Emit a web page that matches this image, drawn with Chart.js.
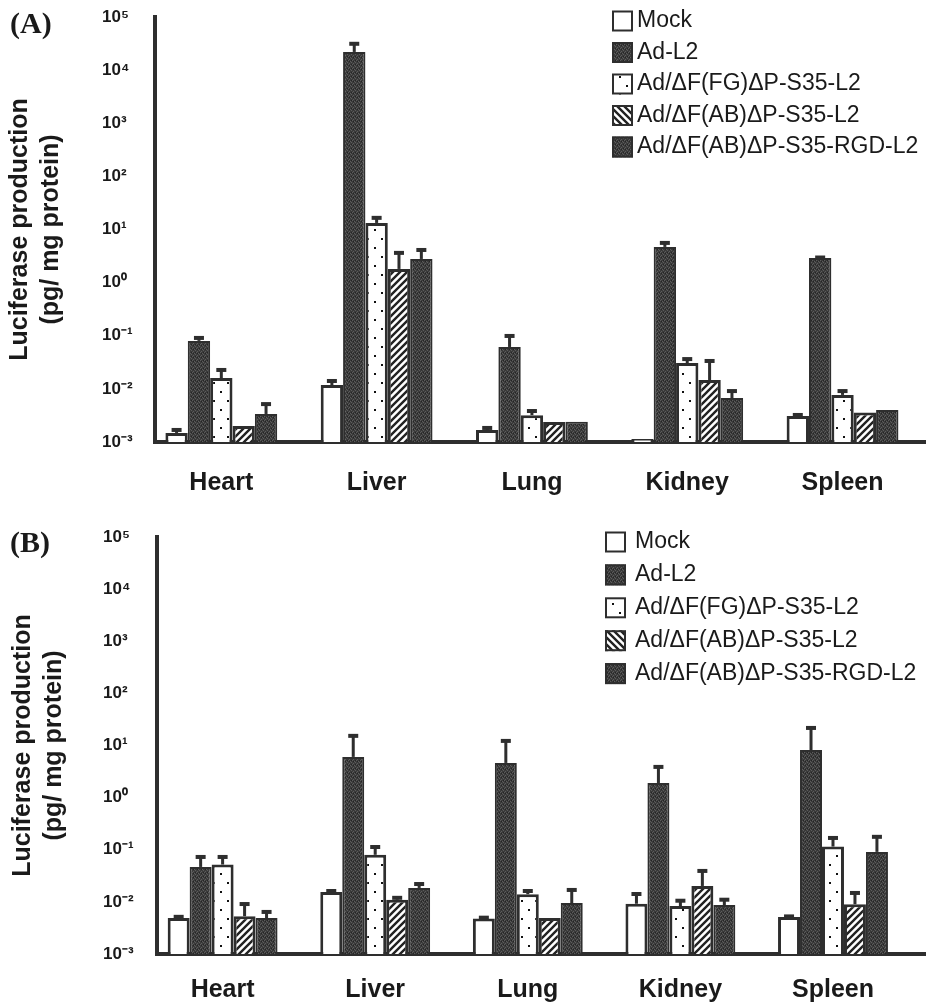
<!DOCTYPE html>
<html>
<head>
<meta charset="utf-8">
<title>Luciferase production</title>
<script src="https://cdn.jsdelivr.net/npm/chart.js@4.4.1/dist/chart.umd.min.js"></script>
<style>
  body { margin: 0; background: #fff; }
  #pagina { position: relative; width: 927px; height: 1005px; overflow: hidden; }
  .painel { position: absolute; left: 0; }
  .letra { position: absolute; left: 10px; font: bold 30px "Liberation Serif", "Times New Roman", serif; line-height: 30px; color: #1a1a1a; }
</style>
</head>
<body>
<div id="pagina">
  <canvas id="graficoA" class="painel" width="927" height="500" style="top:0"></canvas>
  <canvas id="graficoB" class="painel" width="927" height="505" style="top:500px"></canvas>
  <div class="letra" style="top:8px">(A)</div>
  <div class="letra" style="top:527px">(B)</div>
</div>
<script>
const orgaos = ['Heart', 'Liver', 'Lung', 'Kidney', 'Spleen'];
const vetores = ['Mock', 'Ad-L2', 'Ad/ΔF(FG)ΔP-S35-L2', 'Ad/ΔF(AB)ΔP-S35-L2', 'Ad/ΔF(AB)ΔP-S35-RGD-L2'];
const expoentes = [-3, -2, -1, 0, 1, 2, 3, 4, 5];
const rotulosY = ['10⁻³', '10⁻²', '10⁻¹', '10⁰', '10¹', '10²', '10³', '10⁴', '10⁵'];

// (A) medias
const mockA = [0.00148, 0.0118, 0.00168, 0.00114, 0.00309];
const adL2A = [0.080, 22000, 0.0615, 4.7, 2.92];
const fgA = [0.016, 13.3, 0.0032, 0.0307, 0.0077];
const abA = [0.0020, 1.81, 0.00238, 0.0147, 0.0036];
const rgdA = [0.00337, 2.79, 0.0024, 0.0067, 0.0040];
// (A) topo das barras de erro
const mockErrA = [0.00176, 0.0147, 0.00192, null, 0.00337];
const adL2ErrA = [0.095, 32700, 0.1035, 5.84, 3.1];
const fgErrA = [0.0237, 17.3, 0.0040, 0.038, 0.0095];
const abErrA = [null, 3.79, null, 0.035, null];
const rgdErrA = [0.0054, 4.3, null, 0.0095, null];

// (B) medias
const mockB = [0.0049, 0.0155, 0.0048, 0.0092, 0.0051];
const adL2B = [0.0468, 6.04, 4.63, 1.91, 8.2];
const fgB = [0.052, 0.08, 0.014, 0.0083, 0.115];
const abB = [0.0053, 0.011, 0.0049, 0.0202, 0.009];
const rgdB = [0.0049, 0.0185, 0.0095, 0.0087, 0.091];
// (B) topo das barras de erro
const mockErrB = [0.0054, 0.0169, 0.0052, 0.0148, 0.0055];
const adL2ErrB = [0.076, 16, 12.8, 4.06, 22.7];
const fgErrB = [0.076, 0.118, 0.0169, 0.011, 0.176];
const abErrB = [0.0095, 0.0125, null, 0.041, 0.0155];
const rgdErrB = [0.0067, 0.023, 0.0177, 0.0115, 0.185];

const TINTA = '#2e2e2e';
Chart.defaults.font.family = '"Liberation Sans", Arial, sans-serif';
Chart.defaults.color = '#1a1a1a';

// Padroes de preenchimento
function padraoEscuro(ctx) {
  const c = document.createElement('canvas');
  c.width = 4; c.height = 4;
  const g = c.getContext('2d');
  g.fillStyle = '#3a3a3a'; g.fillRect(0, 0, 4, 4);
  g.fillStyle = '#5c5c5c';
  g.fillRect(0, 0, 1, 1); g.fillRect(2, 1, 1, 1); g.fillRect(1, 3, 1, 1); g.fillRect(3, 2, 1, 1);
  g.fillStyle = '#242424';
  g.fillRect(1, 1, 1, 1); g.fillRect(3, 0, 1, 1);
  return ctx.createPattern(c, 'repeat');
}

function padraoPontos(ctx) {
  const c = document.createElement('canvas');
  c.width = 14; c.height = 18;
  const g = c.getContext('2d');
  g.fillStyle = '#fff'; g.fillRect(0, 0, 14, 18);
  g.fillStyle = '#111';
  g.fillRect(3, 4, 2, 2); g.fillRect(10, 13, 2, 2);
  return ctx.createPattern(c, 'repeat');
}

function padraoListras(ctx, invertido) {
  const c = document.createElement('canvas');
  c.width = 7; c.height = 7;
  const g = c.getContext('2d');
  g.fillStyle = '#fff'; g.fillRect(0, 0, 7, 7);
  g.strokeStyle = '#222'; g.lineWidth = 2.4;
  g.beginPath();
  if (invertido) {
    g.moveTo(0, 0); g.lineTo(7, 7);
    g.moveTo(6, -1); g.lineTo(8, 1);
    g.moveTo(-1, 6); g.lineTo(1, 8);
  } else {
    g.moveTo(0, 7); g.lineTo(7, 0);
    g.moveTo(-1, 1); g.lineTo(1, -1);
    g.moveTo(6, 8); g.lineTo(8, 6);
  }
  g.stroke();
  return ctx.createPattern(c, 'repeat');
}

function montarDatasets(ctx, series, erros) {
  const escuro = padraoEscuro(ctx);
  const pontos = padraoPontos(ctx);
  const fundos = ['#ffffff', escuro, pontos, padraoListras(ctx, false), escuro];
  const legendas = ['#ffffff', escuro, pontos, padraoListras(ctx, true), escuro];
  return vetores.map((nome, k) => ({
    label: nome,
    data: series[k].map((v, i) => ({ x: i, y: v })),
    erroTopo: erros[k],
    backgroundColor: fundos[k],
    preenchLegenda: legendas[k],
    borderColor: TINTA,
    borderWidth: (k === 1 || k === 4) ? 2 : 3
  }));
}

// Barras de erro (so para cima)
const barrasErro = {
  id: 'barrasErro',
  afterDatasetsDraw(chart) {
    const ctx = chart.ctx;
    const y = chart.scales.y;
    ctx.save();
    ctx.fillStyle = TINTA;
    chart.data.datasets.forEach((ds, k) => {
      chart.getDatasetMeta(k).data.forEach((barra, i) => {
        const topo = ds.erroTopo[i];
        if (topo == null) return;
        const yt = y.getPixelForValue(topo);
        ctx.fillRect(barra.x - 1.5, yt, 3, barra.y - yt);
        ctx.fillRect(barra.x - 5, yt - 1, 10, 4);
      });
    });
    ctx.restore();
  }
};

// Legenda em coluna, no canto de cima
const legendaLateral = {
  id: 'legendaLateral',
  afterDraw(chart, args, opts) {
    const ctx = chart.ctx;
    ctx.save();
    ctx.font = opts.fonte;
    ctx.textBaseline = 'middle';
    chart.data.datasets.forEach((ds, k) => {
      const yc = opts.y + k * opts.passo;
      const topo = yc - opts.lado / 2;
      ctx.fillStyle = ds.preenchLegenda;
      ctx.fillRect(opts.x, topo, opts.lado, opts.lado);
      ctx.strokeStyle = TINTA;
      ctx.lineWidth = 2;
      ctx.strokeRect(opts.x + 1, topo + 1, opts.lado - 2, opts.lado - 2);
      ctx.fillStyle = '#1a1a1a';
      ctx.fillText(ds.label, opts.xTexto, yc);
    });
    ctx.restore();
  }
};

function criarGrafico(id, series, erros, geo) {
  const ctx = document.getElementById(id).getContext('2d');
  return new Chart(ctx, {
    type: 'bar',
    data: { datasets: montarDatasets(ctx, series, erros) },
    plugins: [barrasErro, legendaLateral],
    options: {
      responsive: false,
      animation: false,
      events: [],
      layout: { padding: geo.margem },
      datasets: { bar: { categoryPercentage: 0.72, barPercentage: 1 } },
      plugins: {
        legend: { display: false },
        tooltip: { enabled: false },
        legendaLateral: geo.legenda
      },
      scales: {
        x: {
          type: 'linear',
          min: geo.xMin,
          max: geo.xMax,
          offset: false,
          z: 1,
          grid: { display: false, drawTicks: false, offset: false },
          border: { display: true, width: 4, color: TINTA },
          afterBuildTicks: (eixo) => { eixo.ticks = orgaos.map((o, i) => ({ value: i })); },
          afterFit: (eixo) => { eixo.height = geo.alturaX; },
          ticks: {
            autoSkip: false,
            maxRotation: 0,
            padding: geo.padX,
            font: { size: 25, weight: 'bold' },
            callback: (v) => orgaos[v]
          }
        },
        y: {
          type: 'logarithmic',
          min: 1e-3,
          max: 1e5,
          grid: { display: false, drawTicks: false },
          border: { display: true, width: 4, color: TINTA },
          afterBuildTicks: (eixo) => { eixo.ticks = expoentes.map(e => ({ value: Math.pow(10, e) })); },
          afterFit: (eixo) => { eixo.width = geo.larguraY; },
          ticks: {
            crossAlign: 'far',
            font: { size: 17, weight: 'bold' },
            callback: (v) => rotulosY[expoentes.indexOf(Math.round(Math.log10(v)))]
          },
          title: {
            display: true,
            text: ['Luciferase production', '(pg/ mg protein)'],
            font: { size: 25, weight: 'bold', lineHeight: 31 / 25 },
            padding: { top: geo.padTitulo, bottom: 0 }
          }
        }
      }
    }
  });
}

document.addEventListener('DOMContentLoaded', function () {
  criarGrafico('graficoA',
    [mockA, adL2A, fgA, abA, rgdA],
    [mockErrA, adL2ErrA, fgErrA, abErrA, rgdErrA],
    {
      margem: { top: 17, left: 102, right: 2, bottom: 0 },
      larguraY: 53, alturaX: 58, padX: 26, padTitulo: -97.5,
      xMin: -0.427, xMax: 4.531,
      legenda: { x: 612, xTexto: 637, y: 21, passo: 31.5, lado: 21, fonte: '23px "Liberation Sans", Arial, sans-serif' }
    });

  criarGrafico('graficoB',
    [mockB, adL2B, fgB, abB, rgdB],
    [mockErrB, adL2ErrB, fgErrB, abErrB, rgdErrB],
    {
      margem: { top: 37, left: 103, right: 2, bottom: 0 },
      larguraY: 54, alturaX: 51, padX: 21, padTitulo: -95.5,
      xMin: -0.430, xMax: 4.603,
      legenda: { x: 605, xTexto: 635, y: 42, passo: 32.9, lado: 21, fonte: '23px "Liberation Sans", Arial, sans-serif' }
    });
});
</script>
</body>
</html>
